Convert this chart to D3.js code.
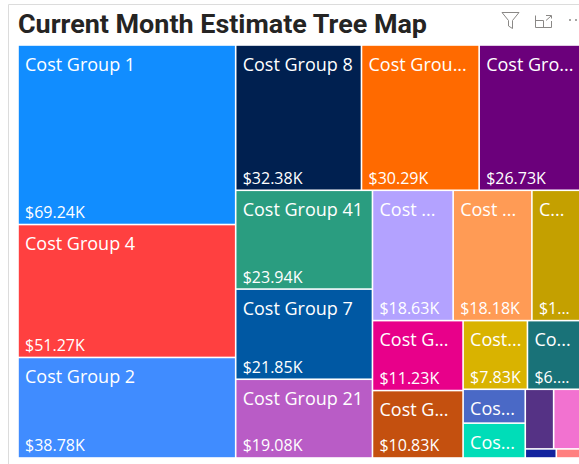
<!DOCTYPE html>
<html>
<head>
<meta charset="utf-8">
<script src="https://cdn.jsdelivr.net/npm/d3@7"></script>
<style>
  body { margin: 0; background: #fff; overflow: hidden; }
  text { font-family: "Open Sans", "Noto Sans", sans-serif; fill: #fff; }
</style>
</head>
<body>
<div id="chart"></div>
<script>
// labels exactly as the picture shows them, truncated ones included
const labels = ["Cost Group 1", "Cost Group 4", "Cost Group 2", "Cost Group 8", "Cost Grou...", "Cost Gro...",
    "Cost Group 41", "Cost Group 7", "Cost Group 21", "Cost ...", "Cost ...", "C...",
    "Cost G...", "Cost G...", "Cost...", "Co...", "Cos...", "Cos...", "", "", "", ""];
const values = [69.24, 51.27, 38.78, 32.38, 30.29, 26.73,
    23.94, 21.85, 19.08, 18.63, 18.18, 11.8,
    11.23, 10.83, 7.83, 6.76, 3.73, 3.84, 3.0, 3.1, 0.5, 0.43];
const valueLabels = ["$69.24K", "$51.27K", "$38.78K", "$32.38K", "$30.29K", "$26.73K",
    "$23.94K", "$21.85K", "$19.08K", "$18.63K", "$18.18K", "$1...",
    "$11.23K", "$10.83K", "$7.83K", "$6....", "", "", "", "", "", ""];
const colors = ["#118DFF", "#FF4040", "#408CFF", "#002050", "#FF6A00", "#6B007B",
    "#2A9D80", "#0058A3", "#B95CC6", "#B3A2FF", "#FF9B55", "#C4A000",
    "#E8008A", "#C4500F", "#D9B300", "#197278", "#4A69C6", "#00DDB8", "#553285", "#F272D0", "#12239E", "#FF8080"];

// how the tiles nest: "h" lays children left to right, "v" top to bottom
const nesting = ["h",
    ["v", 0, 1, 2],
    ["v",
        ["h", 3, 4, 5],
        ["h",
            ["v", 6, 7, 8],
            ["v",
                ["h", 9, 10, 11],
                ["h",
                    ["v", 12, 13],
                    ["v",
                        ["h", 14, 15],
                        ["h",
                            ["v", 16, 17],
                            ["v", ["h", 18, 19], ["h", 20, 21]]
                        ]
                    ]
                ]
            ]
        ]
    ]
];

const toNode = n => typeof n === "number"
    ? { index: n, value: values[n] }
    : { dir: n[0], children: n.slice(1).map(toNode) };

const svg = d3.select("#chart").append("svg")
    .attr("width", 579)
    .attr("height", 464)
    .style("display", "block");

// card edge
svg.append("path")
    .attr("d", "M8.5,464V4.5H579")
    .attr("fill", "none")
    .attr("stroke", "#dcdcdc");

svg.append("text")
    .attr("x", 18)
    .attr("y", 33)
    .style("font-family", "Roboto, sans-serif")
    .style("font-size", "25.5px")
    .style("font-weight", "700")
    .style("fill", "#252423")
    .attr("textLength", 409)
    .attr("lengthAdjust", "spacingAndGlyphs")
    .text("Current Month Estimate Tree Map");

// header icons
const icons = svg.append("g").attr("fill", "none").attr("stroke", "#8a8886");
icons.append("path").attr("d", "M502,12.5H519L512.5,20.5V28.5L508.5,26V20.5Z");
icons.append("path").attr("d", "M535.5,15.5V27.5H551.5V21M535.5,20.5H543.5V27.5M546,15.5H551.5V18.5M551,16L546,20.5");
svg.selectAll(".dot")
    .data([570, 576])
    .enter().append("circle")
    .attr("class", "dot")
    .attr("cx", d => d)
    .attr("cy", 20)
    .attr("r", 1)
    .attr("fill", "#8a8886");

const root = d3.hierarchy(toNode(nesting)).sum(d => d.value || 0);

d3.treemap()
    .size([565, 413])
    .tile((node, x0, y0, x1, y1) =>
        (node.data.dir === "h" ? d3.treemapDice : d3.treemapSlice)(node, x0, y0, x1, y1))(root);

const cell = svg.append("g")
    .attr("transform", "translate(18,45)")
    .selectAll("g")
    .data(root.leaves())
    .enter().append("g")
    .attr("transform", d => `translate(${d.x0},${d.y0})`);

cell.append("rect")
    .attr("x", 0.8)
    .attr("y", 0.8)
    .attr("width", d => d.x1 - d.x0 - 1.6)
    .attr("height", d => d.y1 - d.y0 - 1.6)
    .attr("fill", d => colors[d.data.index]);

cell.append("text")
    .attr("x", 7)
    .attr("y", 25.5)
    .style("font-size", "18px")
    .text(d => labels[d.data.index]);

cell.append("text")
    .attr("x", 7)
    .attr("y", d => d.y1 - d.y0 - 6.5)
    .style("font-size", "16px")
    .text(d => valueLabels[d.data.index]);
</script>
</body>
</html>
